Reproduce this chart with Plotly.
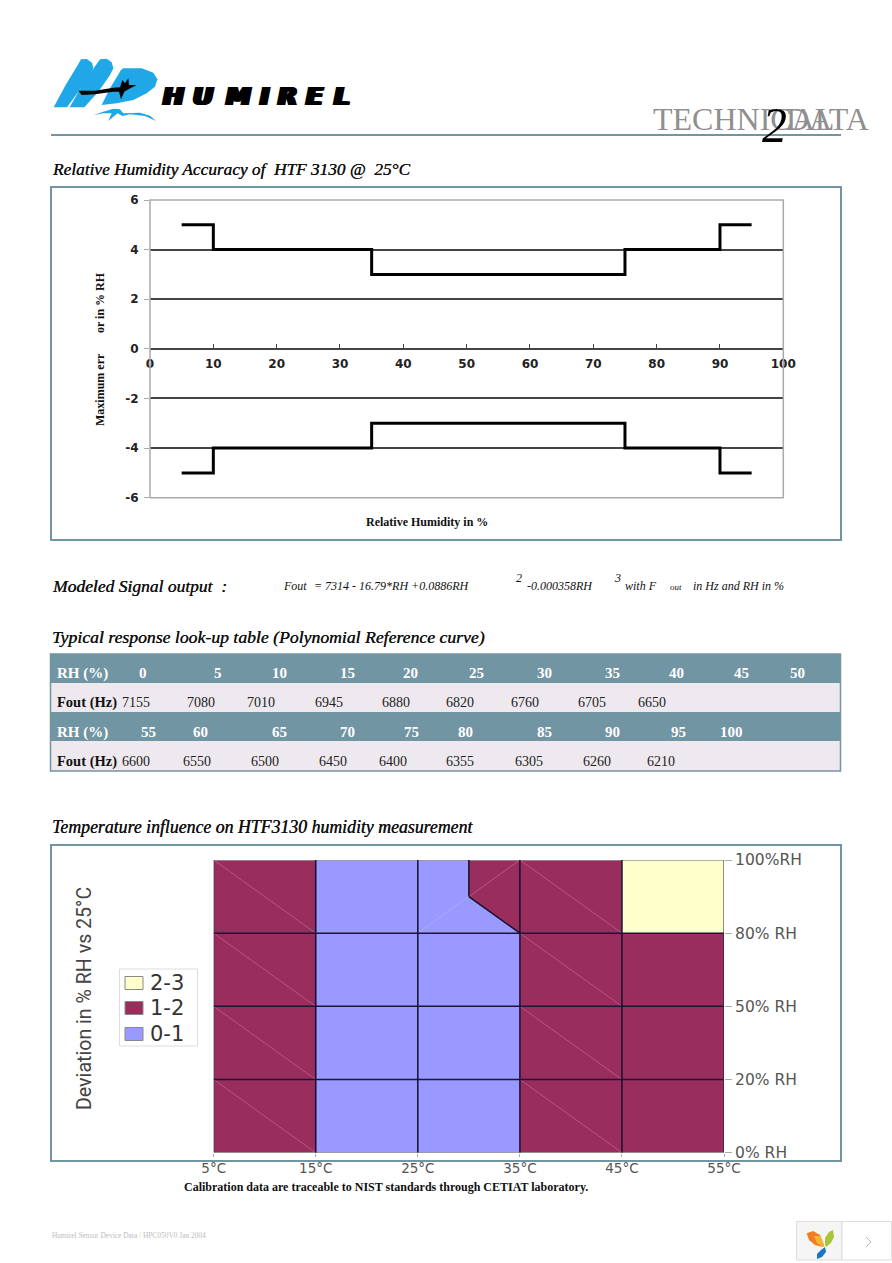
import plotly.graph_objects as go

W, H = 892, 1263

# Accuracy chart (step limits over RH)
accuracy_rh = [5, 10, 35, 75, 90, 95]
accuracy_upper = [5, 4, 3, 4, 5, 5]
accuracy_lower = [-5, -4, -3, -4, -5, -5]
accuracy_xticks = [0, 10, 20, 30, 40, 50, 60, 70, 80, 90, 100]
accuracy_yticks = [-6, -4, -2, 0, 2, 4, 6]
accuracy_ylabels = ['-6', '-4', '-2', '0', '2', '4', '6']

# Look-up table
table_rh_1 = ['0', '5', '10', '15', '20', '25', '30', '35', '40', '45', '50']
table_fout_1 = ['7155', '7080', '7010', '6945', '6880', '6820', '6760', '6705', '6650']
table_rh_2 = ['55', '60', '65', '70', '75', '80', '85', '90', '95', '100']
table_fout_2 = ['6600', '6550', '6500', '6450', '6400', '6355', '6305', '6260', '6210']

# Temperature influence chart, RH levels are evenly spaced on the axis
temps = [5, 15, 25, 35, 45, 55]
temp_labels = ['5°C', '15°C', '25°C', '35°C', '45°C', '55°C']
rh_levels = [0, 1, 2, 3, 4]
rh_labels = ['0% RH', '20% RH', '50% RH', '80% RH', '100%RH']
zone_blue_x = [15, 35, 35, 30, 30, 15, 15]
zone_blue_y = [0, 0, 3, 3.5, 4, 4, 0]
zone_red_left_x = [5, 15, 15, 5, 5]
zone_red_left_y = [0, 0, 4, 4, 0]
zone_red_right_x = [35, 55, 55, 45, 45, 30, 30, 35, 35]
zone_red_right_y = [0, 0, 3, 3, 4, 4, 3.5, 3, 0]
zone_yellow_x = [45, 55, 55, 45, 45]
zone_yellow_y = [3, 3, 4, 4, 3]
legend_labels = ['2-3', '1-2', '0-1']

TEAL = '#7295a3'
RED = '#992d5e'
BLUE = '#9999ff'
YELLOW = '#ffffcc'
SERIF = 'Liberation Serif'


def px(x):
    return x / W


def py(y):
    return 1 - y / H


def poly(points, ox=0, oy=0, s=1, close=True):
    # polyline in page pixels -> svg path in paper fractions
    parts = []
    for i, (x, y) in enumerate(points):
        parts.append(f"{'M' if i == 0 else 'L'}{px(ox + x * s):.5f},{py(oy + y * s):.5f}")
    return ' '.join(parts) + (' Z' if close else '')


fig = go.Figure()

# upper chart
for limit in (accuracy_upper, accuracy_lower):
    fig.add_trace(go.Scatter(x=accuracy_rh, y=limit, mode='lines', xaxis='x', yaxis='y',
                             line=dict(color='black', width=3, shape='hv'),
                             showlegend=False, hoverinfo='skip'))

# lower chart
for zx, zy, col in [(zone_red_left_x, zone_red_left_y, RED),
                    (zone_red_right_x, zone_red_right_y, RED),
                    (zone_blue_x, zone_blue_y, BLUE),
                    (zone_yellow_x, zone_yellow_y, YELLOW)]:
    fig.add_trace(go.Scatter(x=zx, y=zy, mode='lines', fill='toself', fillcolor=col,
                             xaxis='x2', yaxis='y2', line=dict(width=0, color=col),
                             showlegend=False, hoverinfo='skip'))

tick_font = dict(family='DejaVu Sans', size=12, color='#222222', weight='bold')
fig.update_layout(
    width=W, height=H, margin=dict(l=0, r=0, t=0, b=0, pad=0), autosize=False,
    paper_bgcolor='white', plot_bgcolor='white', showlegend=False,
    xaxis=dict(domain=[px(150), px(783.3)], range=[0, 100], anchor='free', position=py(348.8),
               tickvals=accuracy_xticks, ticks='inside', ticklen=4, tickcolor='#444444',
               showgrid=False, zeroline=False, showline=True, linecolor='#444444', linewidth=1.5,
               tickfont=tick_font, ticklabelstandoff=4, automargin=False),
    yaxis=dict(domain=[py(497.7), py(200)], range=[-6, 6], anchor='x',
               tickvals=accuracy_yticks, ticktext=accuracy_ylabels, ticks='outside', ticklen=5,
               tickcolor='#aaaaaa', gridcolor='#444444', gridwidth=1.5, zeroline=False,
               tickfont=tick_font, ticklabelstandoff=3, automargin=False),
    xaxis2=dict(domain=[px(213.7), px(724)], range=[5, 55], anchor='y2',
                tickvals=temps, ticktext=temp_labels, ticks='outside', ticklen=3,
                tickcolor='#aaaaaa', showgrid=False, zeroline=False, automargin=False,
                tickfont=dict(family='DejaVu Sans', size=13.5, color='#555555')),
    yaxis2=dict(domain=[py(1152.7), py(860)], range=[0, 4], anchor='x2', side='right',
                tickvals=rh_levels, ticktext=rh_labels, ticks='outside', ticklen=7,
                tickcolor='#aaaaaa', showgrid=False, zeroline=False, automargin=False,
                tickfont=dict(family='DejaVu Sans', size=15.5, color='#555555')),
)

shapes = []
annos = []


def rect(x0, y0, x1, y1, fill='rgba(0,0,0,0)', line=None, lw=0, layer='above'):
    shapes.append(dict(type='rect', xref='paper', yref='paper', x0=px(x0), x1=px(x1),
                       y0=py(y1), y1=py(y0), fillcolor=fill, layer=layer,
                       line=dict(color=line or fill, width=lw)))


def txt(x, y, text, size=12, color='#111111', family=SERIF, anchor='left', weight='normal',
        style='normal', angle=0, **font_extra):
    annos.append(dict(xref='paper', yref='paper', x=px(x), y=py(y), text=text, showarrow=False,
                      xanchor=anchor, yanchor='middle', textangle=angle, borderpad=0, borderwidth=0,
                      font=dict(family=family, size=size, color=color, weight=weight, style=style,
                                **font_extra)))


# page header
for pts, col in [
    ([(26, 172), (62, 105), (100, 42), (108, 28), (125, 27), (141, 38), (145, 55), (135, 75),
      (100, 125), (66, 172)], '#1fa7e8'),
    ([(74, 172), (115, 100), (155, 42), (165, 28), (185, 26), (200, 37), (205, 55), (195, 75),
      (160, 125), (118, 172)], '#1fa7e8'),
    ([(170, 165), (195, 115), (228, 60), (235, 55), (290, 55), (325, 68), (337, 88), (330, 110),
      (305, 130), (265, 150), (215, 160)], '#1fa7e8'),
    ([(145, 195), (175, 185), (205, 176), (225, 178), (235, 190), (285, 188), (315, 197), (333, 213),
      (300, 198), (255, 193), (232, 198), (218, 190), (205, 200), (190, 213), (200, 190),
      (175, 190)], '#1fa7e8'),
    ([(100, 122), (150, 122), (205, 113), (225, 112), (232, 90), (240, 100), (250, 85), (252, 105),
      (275, 105), (250, 118), (238, 125), (228, 148), (222, 125), (205, 125), (150, 133),
      (110, 135)], '#000000'),
]:
    shapes.append(dict(type='path', xref='paper', yref='paper', path=poly(pts, 45, 50, 1 / 3),
                       fillcolor=col, line=dict(width=0), layer='above'))

for letter, x in zip('HUMIREL', [173, 203, 238, 264, 287, 314, 342]):
    txt(x, 97, letter, size=25, color='black', family='DejaVu Sans', anchor='center',
        weight='bold', style='italic', shadow='1px 0 0 #000, -1px 0 0 #000, 2px 0 0 #000, -2px 0 0 #000')

rect(51, 134, 841, 136, fill=TEAL)
txt(653, 119, 'TECHNICAL', size=32, color='#8f8f8f')
txt(786, 119, 'DATA', size=32, color='#8f8f8f')
txt(774, 125, '2', size=50, color='#000000', anchor='center', style='italic')

# section titles
title_kw = dict(color='#111111', style='italic', shadow='0.3px 0 0 #111111')
txt(52, 169, 'Relative Humidity Accuracy of  HTF 3130 @  25°C', size=17.3, **title_kw)
txt(52, 586, 'Modeled Signal output  :', size=17.5, **title_kw)
txt(52, 637, 'Typical response look-up table (Polynomial Reference curve)', size=17.7, **title_kw)
txt(52, 827, 'Temperature influence on HTF3130 humidity measurement', size=17.8, **title_kw)

# upper chart frames and labels
rect(51, 187, 841, 540, line=TEAL, lw=2)
shapes.append(dict(type='rect', xref='paper', yref='paper', x0=px(150), x1=px(783.3), y0=py(497.7),
                   y1=py(200), line=dict(color='#aaaaaa', width=1.5), layer='above'))
txt(100, 390, 'Maximum err', size=12, family=SERIF, anchor='center', weight='bold', angle=-90)
txt(100, 303, 'or in % RH', size=12, family=SERIF, anchor='center', weight='bold', angle=-90)
txt(427, 522, 'Relative Humidity in %', size=12, anchor='center', weight='bold')

# formula
form_kw = dict(style='italic', size=12)
txt(283, 586, 'Fout', **form_kw)
txt(314, 586, '= 7314 - 16.79*RH +0.0886RH', **form_kw)
txt(516, 578, '2', **form_kw)
txt(527, 586, '-0.000358RH', **form_kw)
txt(614, 578, '3', **form_kw)
txt(625, 586, 'with F', **form_kw)
txt(670, 587, 'out', style='italic', size=9)
txt(693, 586, 'in Hz and RH in %', **form_kw)

# look-up table
rect(50, 654, 841, 683, fill=TEAL)
rect(50, 683, 841, 712, fill='#eee9ee')
rect(50, 712, 841, 741, fill=TEAL)
rect(50, 741, 841, 771, fill='#eee9ee')
rect(50.5, 654, 840.5, 771, line=TEAL, lw=1.5)

rh_pos_1 = [143, 218, 279, 347, 410, 476, 544, 612, 676, 741, 797]
fout_pos_1 = [136, 201, 261, 329, 396, 460, 525, 592, 652]
rh_pos_2 = [148, 200, 279, 347, 411, 466, 544, 612, 678, 731]
fout_pos_2 = [136, 197, 265, 333, 393, 460, 529, 597, 661]
for y_rh, y_f, rh_row, f_row, rp, fp in [(673, 702, table_rh_1, table_fout_1, rh_pos_1, fout_pos_1),
                                         (732, 761, table_rh_2, table_fout_2, rh_pos_2, fout_pos_2)]:
    txt(57, y_rh, 'RH (%)', size=15, color='white', weight='bold')
    txt(57, y_f, 'Fout (Hz)', size=14.5, color='#111111', weight='bold')
    for v, x in zip(rh_row, rp):
        txt(x, y_rh, v, size=15, color='white', anchor='center', weight='bold')
    for v, x in zip(f_row, fp):
        txt(x, y_f, v, size=14, color='#222222', anchor='center')


# lower chart grid, it has to sit on top of the filled zones
def grid(x0, y0, x1, y1, color, width):
    shapes.append(dict(type='line', xref='x2', yref='y2', x0=x0, y0=y0, x1=x1, y1=y1,
                       line=dict(color=color, width=width), layer='above'))


for t in [5, 35]:
    for i in rh_levels[:-1]:
        grid(t, i + 1, t + 10, i, '#b9567f', 1)
grid(25, 3, 30, 3.5, '#adadff', 1)
grid(30, 3.5, 35, 4, '#b9567f', 1)
for i in rh_levels[1:-1]:
    grid(temps[0], i, temps[-1], i, '#1c1538', 1.5)
grid(temps[0], 0, temps[-1], 0, '#8d8d8d', 1.5)
grid(temps[0], 4, temps[-1], 4, '#9a9a9a', 1.5)
for t in temps[1:-1]:
    grid(t, 0, t, 4, '#14102e', 1.5)
grid(temps[0], 0, temps[0], 4, '#2a1a35', 1)
grid(temps[-1], 0, temps[-1], 4, '#2a1a35', 1)
grid(35, 3, 30, 3.5, '#14102e', 1.5)
grid(30, 3.5, 30, 4, '#14102e', 1.5)

rect(51, 845, 841, 1161, line=TEAL, lw=2)
txt(84, 999, 'Deviation in % RH vs 25°C', size=19.6, color='#444444', family='Roboto',
    anchor='center', angle=-90)
txt(386, 1187, 'Calibration data are traceable to NIST standards through CETIAT laboratory.',
    size=12, anchor='center', weight='bold')

# colour key
rect(119.5, 969, 197.5, 1046, line='#dddddd', lw=1, fill='white')
for label, col, y in zip(legend_labels, [YELLOW, RED, BLUE], [983, 1008, 1034]):
    rect(125, y - 6.5, 143, y + 6.5, fill=col, line='#888888', lw=1)
    txt(150, y, label, size=21, color='#333333', family='DejaVu Sans')

# footer and viewer widget
txt(52, 1235, 'Humirel Sensor Device Data / HPC050V0 Jan 2004', size=7.4, color='#bdbdbd')
rect(796.5, 1221.5, 842, 1260, fill='#f5f5f5', line='#dddddd', lw=1)
rect(842, 1221.5, 891.5, 1260, fill='white', line='#dddddd', lw=1)
for pts, col in [
    ([(806.7, 1233.3), (813, 1231), (820, 1235), (824, 1245), (823, 1247), (815, 1245), (809, 1240)], '#ef7d22'),
    ([(814, 1236), (820, 1236), (824, 1245), (823, 1247), (817, 1243)], '#f5b52e'),
    ([(833, 1230), (834, 1237), (831, 1243), (826, 1247), (825, 1245), (825, 1238), (829, 1232)], '#a9c63a'),
    ([(825, 1247), (826, 1252), (822, 1257), (817, 1259), (817, 1254), (821, 1250)], '#1c74c4'),
]:
    shapes.append(dict(type='path', xref='paper', yref='paper', path=poly(pts), fillcolor=col,
                       line=dict(width=0), layer='above'))
shapes.append(dict(type='path', xref='paper', yref='paper', layer='above',
                   path=poly([(866, 1237), (871, 1242), (866, 1247)], close=False),
                   line=dict(color='#bbbbbb', width=1)))

fig.update_layout(shapes=shapes, annotations=annos)

fig.write_html('out.html', config=dict(displayModeBar=False),
               post_script="document.body.style.margin='0';document.body.style.overflow='hidden';")
